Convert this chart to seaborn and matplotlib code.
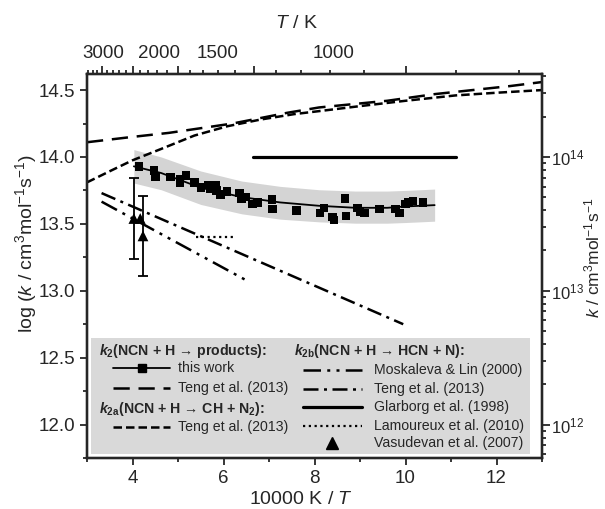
import numpy as np
import pandas as pd
import matplotlib
matplotlib.use("Agg")
import matplotlib.pyplot as plt
import seaborn as sns
from matplotlib.lines import Line2D
from matplotlib.patches import Rectangle
from matplotlib.ticker import MultipleLocator, FixedLocator, NullFormatter
import matplotlib.transforms as mtransforms

# ---- data (x = 10000 K / T, y = log k) ----
# this work, measured points
tw_x = [4.14, 4.47, 4.51, 4.84, 5.04, 5.04, 5.18, 5.36, 5.51, 5.66, 5.71, 5.82, 5.84,
        5.93, 6.08, 6.35, 6.39, 6.48, 6.64, 6.75, 7.07, 7.08, 7.61, 8.12, 8.21, 8.39,
        8.43, 8.67, 8.69, 8.95, 9.00, 9.10, 9.43, 9.78, 9.87, 10.00, 10.07, 10.16, 10.38]
tw_y = [13.93, 13.90, 13.85, 13.85, 13.83, 13.81, 13.86, 13.81, 13.77, 13.79, 13.76, 13.79, 13.75,
        13.72, 13.74, 13.73, 13.69, 13.70, 13.65, 13.66, 13.68, 13.61, 13.60, 13.58, 13.62, 13.55,
        13.53, 13.69, 13.56, 13.62, 13.59, 13.58, 13.61, 13.61, 13.58, 13.65, 13.66, 13.67, 13.66]

# this work, fit and uncertainty band
fit_x = [4.03, 4.63, 5.50, 6.40, 7.25, 8.10, 8.90, 9.60, 10.00, 10.64]
fit_y = [13.93, 13.88, 13.77, 13.70, 13.66, 13.635, 13.62, 13.62, 13.63, 13.64]
band_hi = [14.055, 14.00, 13.895, 13.82, 13.78, 13.755, 13.745, 13.745, 13.75, 13.76]
band_lo = [13.805, 13.755, 13.645, 13.575, 13.535, 13.515, 13.505, 13.505, 13.51, 13.52]

# Teng et al. (2013), k2
teng2_x = [3.0, 3.5, 4.0, 4.8, 5.4, 6.2, 6.8, 7.4, 8.1, 9.0, 9.6, 10.65, 11.75, 12.3, 13.0]
teng2_y = [14.11, 14.13, 14.15, 14.18, 14.21, 14.25, 14.29, 14.33, 14.37, 14.40, 14.42, 14.47,
           14.51, 14.53, 14.56]

# Teng et al. (2013), k2a
teng2a_x = [3.0, 3.54, 4.0, 4.63, 5.36, 6.09, 6.82, 7.55, 8.28, 9.0, 10.0, 11.1, 12.0, 13.0]
teng2a_y = [13.81, 13.90, 13.975, 14.06, 14.16, 14.23, 14.28, 14.32, 14.35, 14.38, 14.42,
            14.46, 14.48, 14.50]

# k2b sources
moskaleva_x = [3.32, 6.49]
moskaleva_y = [13.666, 13.08]
teng2b_x = [3.32, 9.95]
teng2b_y = [13.73, 12.75]
glarborg_x = [6.64, 11.1]
glarborg_y = [14.0, 14.0]
lamoureux_x = [5.40, 6.28]
lamoureux_y = [13.40, 13.40]
vas_x = [4.03, 4.17, 4.23]
vas_y = [13.54, 13.54, 13.41]
vas_err = [0.30, 0.0, 0.30]

# top axis temperatures
top_major_T = [3000, 2500, 2000, 1500, 1000]
top_minor_T = list(range(800, 3400, 100))
top_label_T = ["3000", "2000", "1500", "1000"]

# ---- styling ----
sns.set_style("ticks")
plt.rcParams["font.family"] = ["Liberation Sans", "DejaVu Sans"]
plt.rcParams["mathtext.fontset"] = "custom"
plt.rcParams["mathtext.rm"] = "Liberation Sans"
plt.rcParams["mathtext.it"] = "Liberation Sans:italic"
plt.rcParams["mathtext.bf"] = "Liberation Sans:bold"
plt.rcParams["mathtext.bfit"] = "Liberation Sans:italic:bold"

LS_LONG = (0, (6.5, 3.5))
LS_SHORT = (0, (3.4, 1.6))
LS_DASHDOT = (0, (6, 2.2, 1.2, 2.2))
LS_DASHDOTDOT = (0, (7, 2.5, 1.2, 2.5, 1.2, 2.5))
LS_DOT = (0, (1, 1.6))

fig = plt.figure(figsize=(6.05, 5.09), dpi=100)
ax = fig.add_axes([0.1438, 0.1002, 0.7521, 0.7544])

# band + fit + points
ax.fill_between(fit_x, band_lo, band_hi, color="#d4d4d4", lw=0, zorder=1)
sns.lineplot(x=fit_x, y=fit_y, ax=ax, color="black", lw=1.3, zorder=3)
sns.scatterplot(x=tw_x, y=tw_y, ax=ax, marker="s", s=38, color="black", edgecolor="none", zorder=4)

# literature curves
sns.lineplot(x=teng2_x, y=teng2_y, ax=ax, color="black", lw=1.8, linestyle=LS_LONG, zorder=2)
sns.lineplot(x=teng2a_x, y=teng2a_y, ax=ax, color="black", lw=1.8, linestyle=LS_SHORT, zorder=2)
sns.lineplot(x=moskaleva_x, y=moskaleva_y, ax=ax, color="black", lw=1.8, linestyle=LS_DASHDOTDOT, zorder=2)
sns.lineplot(x=teng2b_x, y=teng2b_y, ax=ax, color="black", lw=1.8, linestyle=LS_DASHDOT, zorder=2)
sns.lineplot(x=glarborg_x, y=glarborg_y, ax=ax, color="black", lw=2.3, zorder=2)
sns.lineplot(x=lamoureux_x, y=lamoureux_y, ax=ax, color="black", lw=1.6, linestyle=LS_DOT, zorder=2)

# Vasudevan: triangles with error bars
vas = pd.DataFrame({"x": vas_x, "y": vas_y, "err": vas_err})
with_err = vas[vas["err"] > 0]
ax.errorbar(with_err["x"], with_err["y"], yerr=with_err["err"], fmt="none", ecolor="black",
            elinewidth=1.3, capsize=3.5, capthick=1.3, zorder=3)
sns.scatterplot(data=vas, x="x", y="y", ax=ax, marker="^", s=60, color="black", edgecolor="none", zorder=4)

ax.set_xlim(3, 13)
ax.set_ylim(11.75, 14.62)
ax.xaxis.set_major_locator(MultipleLocator(2))
ax.xaxis.set_minor_locator(MultipleLocator(1))
ax.yaxis.set_major_locator(MultipleLocator(0.5))
ax.yaxis.set_minor_locator(MultipleLocator(0.25))
ax.yaxis.set_major_formatter(matplotlib.ticker.FormatStrFormatter("%.1f"))
ax.set_xlabel(r"10000 K / $T$", fontsize=14)
ax.xaxis.set_label_coords(0.47, -0.085)
ax.set_ylabel(r"log ($k$ / cm$^3$mol$^{-1}$s$^{-1}$)", fontsize=14)
ax.yaxis.set_label_coords(-0.105, 0.56)

ax.tick_params(which="both", direction="out", width=1.3, labelsize=13.5, top=False, right=False)
ax.tick_params(which="major", length=5)
ax.tick_params(which="minor", length=3)
for s in ax.spines.values():
    s.set_linewidth(1.6)

# right axis: k on log scale
axr = ax.twinx()
axr.set_yscale("log")
axr.set_ylim(10 ** 11.75, 10 ** 14.62)
axr.tick_params(which="both", direction="out", width=1.3, labelsize=12, pad=0.5)
axr.tick_params(which="major", length=6)
axr.tick_params(which="minor", length=3)
axr.set_ylabel(r"$k$ / cm$^3$mol$^{-1}$s$^{-1}$", fontsize=12.5)
axr.yaxis.set_label_coords(1.09, 0.52)

# top axis: temperature
axt = ax.twiny()
axt.set_xlim(ax.get_xlim())
axt.xaxis.set_major_locator(FixedLocator([10000 / t for t in top_major_T]))
axt.xaxis.set_minor_locator(FixedLocator([10000 / t for t in top_minor_T]))
axt.xaxis.set_major_formatter(NullFormatter())
axt.tick_params(which="both", direction="out", width=1.3)
axt.tick_params(which="major", length=6)
axt.tick_params(which="minor", length=3)
top_trans = mtransforms.blended_transform_factory(axt.transData, axt.transAxes)
for lab, xpos in zip(top_label_T, [3.36, 4.58, 5.87, 8.42]):
    axt.text(xpos, 1.03, lab, transform=top_trans, ha="center", va="bottom", fontsize=13.5)
axt.text(0.461, 1.11, r"$T$ / K", transform=axt.transAxes, ha="center", va="bottom", fontsize=14)
for a in (axr, axt):
    for s in a.spines.values():
        s.set_linewidth(1.6)

# ---- legend drawn by hand ----
T = ax.transAxes
ax.add_patch(Rectangle((0.008, 0.0104), 0.966, 0.303, transform=T, facecolor="#d9d9d9",
                       edgecolor="none", zorder=6))
LFS = 10.2

def leg_line(x0, x1, y, **kw):
    ax.add_line(Line2D([x0, x1], [y, y], transform=T, color="black", zorder=7, **kw))

def leg_text(x, y, s, bold=False):
    ax.text(x, y, s, transform=T, fontsize=LFS, va="center", ha="left", zorder=8,
            fontweight="bold" if bold else "normal")

# column 1
leg_text(0.027, 0.279, r"$\mathbfit{k}_\mathbf{2}$(NCN + H → products):", bold=True)
leg_line(0.057, 0.182, 0.235, lw=1.3)
ax.add_line(Line2D([0.1199], [0.235], transform=T, marker="s", ms=6, color="black", zorder=8))
leg_text(0.2, 0.235, "this work")
leg_line(0.057, 0.182, 0.183, lw=1.8, linestyle=LS_LONG)
leg_text(0.2, 0.183, "Teng et al. (2013)")
leg_text(0.027, 0.127, r"$\mathbfit{k}_\mathbf{2a}$(NCN + H → CH + N$_\mathbf{2}$):", bold=True)
leg_line(0.057, 0.182, 0.082, lw=1.8, linestyle=LS_SHORT)
leg_text(0.2, 0.082, "Teng et al. (2013)")

# column 2
leg_text(0.455, 0.279, r"$\mathbfit{k}_\mathbf{2b}$(NCN + H → HCN + N):", bold=True)
rows = [0.228, 0.179, 0.132, 0.083, 0.038]
leg_line(0.475, 0.604, rows[0], lw=1.8, linestyle=LS_DASHDOTDOT)
leg_text(0.631, rows[0], "Moskaleva & Lin (2000)")
leg_line(0.475, 0.604, rows[1], lw=1.8, linestyle=LS_DASHDOT)
leg_text(0.631, rows[1], "Teng et al. (2013)")
leg_line(0.475, 0.604, rows[2], lw=2.3)
leg_text(0.631, rows[2], "Glarborg et al. (1998)")
leg_line(0.475, 0.604, rows[3], lw=1.6, linestyle=LS_DOT)
leg_text(0.631, rows[3], "Lamoureux et al. (2010)")
ax.add_line(Line2D([0.5395], [rows[4]], transform=T, marker="^", ms=8, color="black",
                   lw=0, zorder=8))
leg_text(0.631, rows[4], "Vasudevan et al. (2007)")

fig.savefig("out.png", dpi=100)
